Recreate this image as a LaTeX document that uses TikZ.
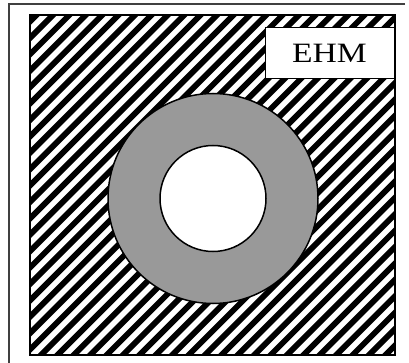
\documentclass[tikz,border=0pt]{standalone}
\usepackage{fontspec}
\setmainfont{Liberation Serif}
\begin{document}
\begin{tikzpicture}[x=1pt,y=-1pt,
  frameline/.style={draw=black!75,line width=1.5pt},
  hatchline/.style={line width=5.8pt,black},
  ring/.style={draw=black,line width=1.5pt},
  labelbox/.style={draw=black,fill=white,line width=1pt,minimum width=129pt,minimum height=51pt,inner sep=0pt}]
\useasboundingbox (0,0) rectangle (409,363);
% outer frame
\draw[frameline] (405,4) -- (9,4) -- (9,363);
% hatched region
\coordinate (hA) at (30,15);
\coordinate (hB) at (395,355);
\begin{scope}
\clip (hA) rectangle (hB);
\fill[white] (hA) rectangle (hB);
\foreach \k in {-22,...,23} {
  \draw[hatchline] ({36+\k*16.4},360) -- ({36+\k*16.4+350},10);
}
\end{scope}
\draw[black,line width=1.2pt] (hA) rectangle (hB);
% rings
\coordinate (c) at (213,198.5);
\draw[ring,fill=black!40] (c) circle[radius=105];
\draw[ring,fill=white] (c) circle[radius=53];
% label
\node[labelbox] (ehm) at (329.5,53.5) {\fontsize{28}{28}\selectfont\scalebox{1.2}[1]{EHM}};
\end{tikzpicture}
\end{document}
